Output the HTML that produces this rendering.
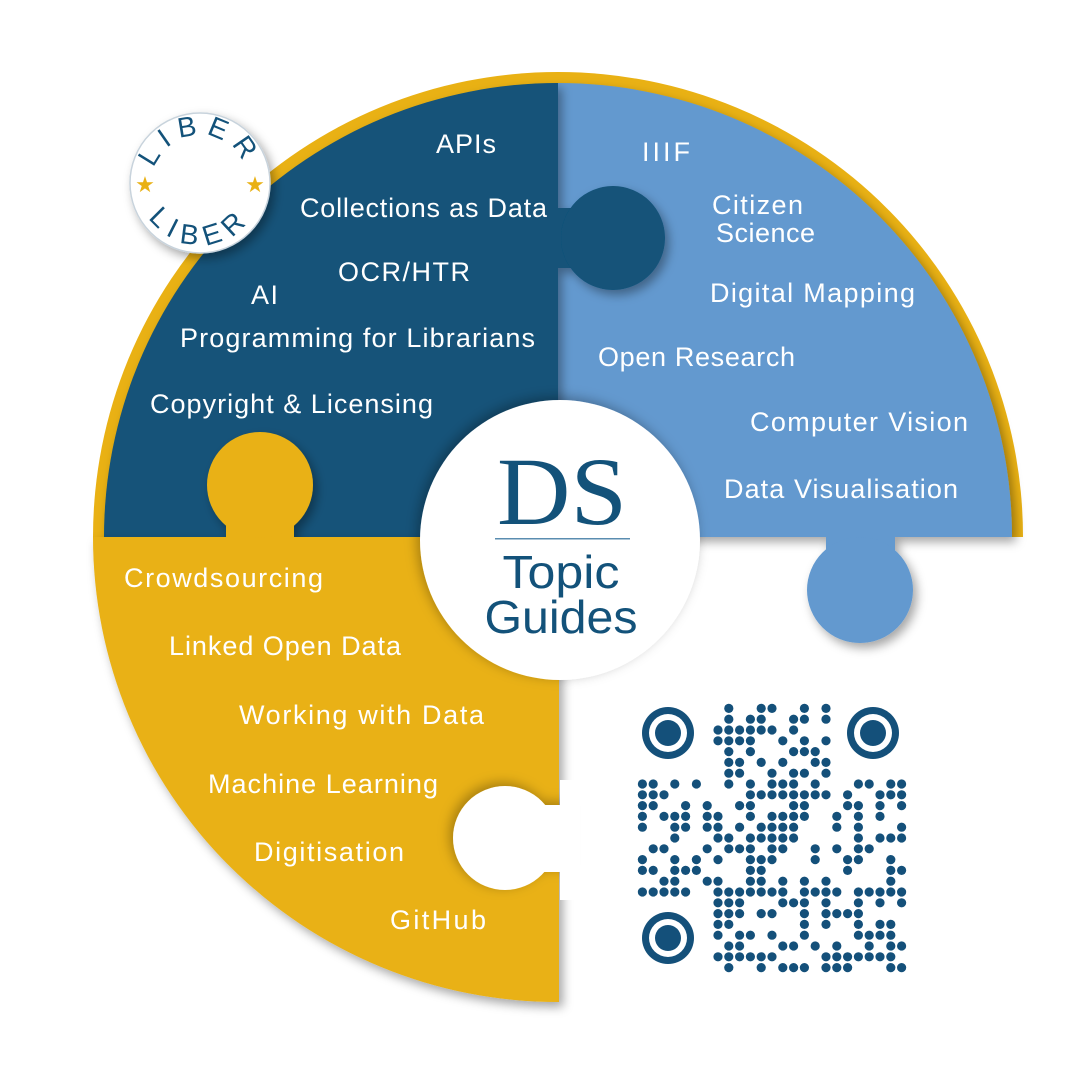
<!DOCTYPE html>
<html><head><meta charset="utf-8"><style>
html,body{margin:0;padding:0;background:#fff;}
svg{display:block;}
.t{font-family:"Liberation Sans",sans-serif;font-size:27px;fill:#fff;}
</style></head><body>
<svg id="s" width="1080" height="1080" viewBox="0 0 1080 1080" xmlns="http://www.w3.org/2000/svg">
<defs>
<filter id="sh" x="-20%" y="-20%" width="140%" height="140%"><feDropShadow dx="4" dy="5" stdDeviation="5" flood-color="#000" flood-opacity="0.35"/></filter>
<filter id="ish" x="-20%" y="-20%" width="140%" height="140%"><feDropShadow dx="-3" dy="-3" stdDeviation="6" flood-color="#000" flood-opacity="0.3"/></filter>
</defs>
<path d="M93 537 A465 465 0 0 1 1023 537 Z" fill="#e9b114"/>
<g filter="url(#sh)">
<path d="M558 83 A454 454 0 0 1 1012 537 L558 537 Z" fill="#6399cf"/>
<rect x="826" y="530" width="69" height="30" fill="#6399cf"/>
<circle cx="860" cy="590" r="53" fill="#6399cf"/>
</g>
<g filter="url(#sh)">
<path d="M104 537 A454 454 0 0 1 558 83 L558 537 Z" fill="#125279"/>
<rect x="550" y="208" width="28" height="60" fill="#125279"/>
<circle cx="613" cy="238" r="52" fill="#125279"/>
</g>
<g filter="url(#sh)">
<path d="M93 537 L559 537 L559 1002 A465 465 0 0 1 93 537 Z" fill="#e9b114"/>
<rect x="226" y="505" width="68" height="40" fill="#e9b114"/>
<circle cx="260" cy="485" r="53" fill="#e9b114"/>
</g>
<g filter="url(#ish)">
<rect x="530" y="805" width="40" height="67" fill="#fff"/>
<circle cx="505" cy="838" r="52" fill="#fff"/>
</g>
<rect x="560" y="780" width="20" height="120" fill="#fff"/>
<circle cx="560" cy="540" r="140" fill="#fff" filter="url(#ish)"/>
<text x="562" y="524" text-anchor="middle" font-family="Liberation Serif,serif" font-size="96" fill="#13527a" textLength="130" lengthAdjust="spacingAndGlyphs">DS</text>
<rect x="495" y="538" width="135" height="1.5" fill="#5a8db0"/>
<text x="561" y="588" text-anchor="middle" font-family="Liberation Sans,sans-serif" font-size="46" fill="#13527a" textLength="117" lengthAdjust="spacingAndGlyphs">Topic</text>
<text x="561" y="633" text-anchor="middle" font-family="Liberation Sans,sans-serif" font-size="46" fill="#13527a" textLength="153" lengthAdjust="spacingAndGlyphs">Guides</text>
<g class="t" lengthAdjust="spacingAndGlyphs">
<text x="436" y="153" textLength="60">APIs</text>
<text x="300" y="217" textLength="247">Collections as Data</text>
<text x="338" y="281" textLength="132">OCR/HTR</text>
<text x="251" y="304" textLength="27">AI</text>
<text x="180" y="347" textLength="355">Programming for Librarians</text>
<text x="150" y="413" textLength="283">Copyright &amp; Licensing</text>
<text x="642" y="161" textLength="48">IIIF</text>
<text x="712" y="214" textLength="91">Citizen</text>
<text x="716" y="242" textLength="99">Science</text>
<text x="710" y="302" textLength="205">Digital Mapping</text>
<text x="598" y="366" textLength="197">Open Research</text>
<text x="750" y="431" textLength="218">Computer Vision</text>
<text x="724" y="498" textLength="234">Data Visualisation</text>
<text x="124" y="587" textLength="199">Crowdsourcing</text>
<text x="169" y="655" textLength="232">Linked Open Data</text>
<text x="239" y="724" textLength="245">Working with Data</text>
<text x="208" y="793" textLength="230">Machine Learning</text>
<text x="254" y="861" textLength="150">Digitisation</text>
<text x="390" y="929" textLength="96">GitHub</text>
</g>
<g filter="url(#sh)"><circle cx="200" cy="183" r="70" fill="#fff" stroke="#c8d3dc" stroke-width="1.5"/></g>
<path id="arcT" d="M152 183 A48 48 0 0 1 248 183" fill="none"/>
<path id="arcB" d="M138 183 A62 62 0 0 0 262 183" fill="none"/>
<text font-family="Liberation Sans,sans-serif" font-size="28" fill="#13527a" letter-spacing="8"><textPath href="#arcT" startOffset="50%" text-anchor="middle">LIBER</textPath></text>
<text font-family="Liberation Sans,sans-serif" font-size="28" fill="#13527a" letter-spacing="8"><textPath href="#arcB" startOffset="50%" text-anchor="middle">LIBER</textPath></text>
<text x="145" y="192" font-size="22" fill="#e9b114" text-anchor="middle" font-family="DejaVu Sans,sans-serif">★</text>
<text x="255" y="192" font-size="22" fill="#e9b114" text-anchor="middle" font-family="DejaVu Sans,sans-serif">★</text>
<rect x="628" y="695" width="285" height="282" fill="#fff"/>
<g id="qr" fill="#14507a"></g>
</svg>
<script>
(function(){
var g=document.getElementById('qr'),ns='http://www.w3.org/2000/svg';
var x0=637,y0=703,m=10.8,N=25,seed=98765;
function r(){seed=(seed*1103515245+12345)%2147483648;return seed/2147483648;}
function inF(i,j){return (i<7&&j<7)||(i>=N-7&&j<7)||(i<7&&j>=N-7);}
for(var j=0;j<N;j++)for(var i=0;i<N;i++){
 if(inF(i,j))continue;
 if(r()<0.55){var c=document.createElementNS(ns,'circle');
 c.setAttribute('cx',x0+i*m+m/2);c.setAttribute('cy',y0+j*m+m/2);c.setAttribute('r',4.6);g.appendChild(c);}
}
[[668,733],[873,733],[668,938]].forEach(function(p){
 var a=document.createElementNS(ns,'circle');a.setAttribute('cx',p[0]);a.setAttribute('cy',p[1]);a.setAttribute('r',26);g.appendChild(a);
 var b=document.createElementNS(ns,'circle');b.setAttribute('cx',p[0]);b.setAttribute('cy',p[1]);b.setAttribute('r',19);b.setAttribute('fill','#fff');g.appendChild(b);
 var c=document.createElementNS(ns,'circle');c.setAttribute('cx',p[0]);c.setAttribute('cy',p[1]);c.setAttribute('r',13);g.appendChild(c);
});
})();
</script>
</body></html>
